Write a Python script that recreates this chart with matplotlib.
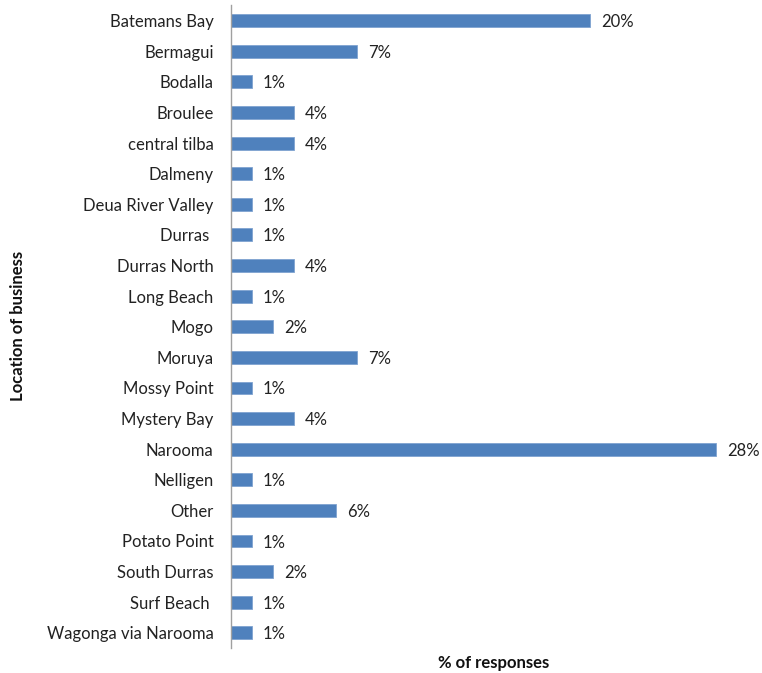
import matplotlib
matplotlib.use("Agg")
import matplotlib.pyplot as plt
import numpy as np

plt.rcParams['font.family'] = ['Lato', 'DejaVu Sans']

# business locations, top to bottom
locations = ["Batemans Bay", "Bermagui", "Bodalla", "Broulee", "central tilba",
             "Dalmeny", "Deua River Valley", "Durras ", "Durras North", "Long Beach",
             "Mogo", "Moruya", "Mossy Point", "Mystery Bay", "Narooma",
             "Nelligen", "Other", "Potato Point", "South Durras", "Surf Beach ",
             "Wagonga via Narooma"]

# share of responses (%)
responses = [20.5, 7.2, 1.2, 3.6, 3.6,
             1.2, 1.2, 1.2, 3.6, 1.2,
             2.4, 7.2, 1.2, 3.6, 27.7,
             1.2, 6.0, 1.2, 2.4, 1.2,
             1.2]

barColor = "#4F81BD"
fs = 12

fig = plt.figure(figsize=(7.62, 6.73), dpi=100)
ax = fig.add_axes([0.303, 0.037, 0.690, 0.955])

ypos = np.arange(len(locations))
ax.barh(ypos, responses, height=0.42, color=barColor, edgecolor="#7FA3D0", linewidth=0.6)

for y, v in zip(ypos, responses):
    ax.text(v + 0.62, y + 0.05, "%.0f%%" % v, va="center", ha="left", fontsize=fs, color="#222222")

ax.set_xlim(0, 30)
ax.set_ylim(len(locations) - 0.5, -0.5)
ax.set_yticks(ypos)
ax.set_yticklabels(locations, fontsize=fs, color="#222222")
ax.set_xticks([])
ax.tick_params(axis="y", length=0, pad=12.5)

for side in ["top", "right", "bottom"]:
    ax.spines[side].set_visible(False)
ax.spines["left"].set_color("#A0A0A0")
ax.spines["left"].set_linewidth(1.0)

fig.text(0.648, 0.015, "% of responses", ha="center", va="center",
         fontsize=fs, fontweight="bold", color="#111111")
fig.text(0.024, 0.515, "Location of business", ha="center", va="center",
         rotation=90, fontsize=fs, fontweight="bold", color="#111111")

plt.savefig("out.png", dpi=100)
